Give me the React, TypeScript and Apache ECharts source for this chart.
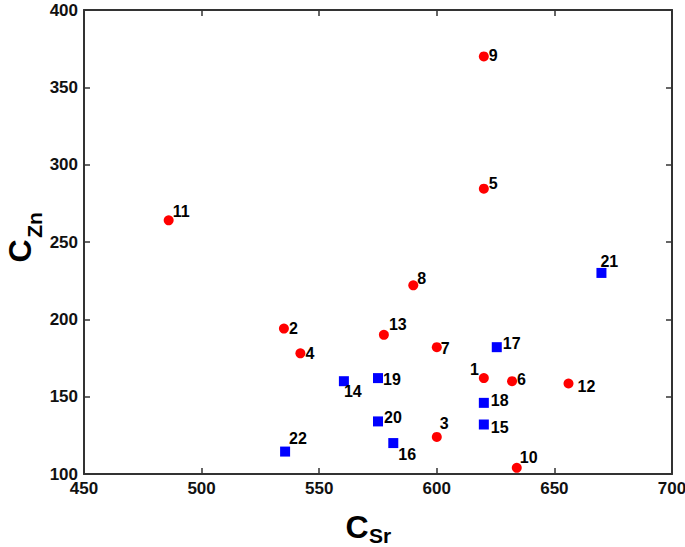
import React, { useEffect, useRef } from "react";
import * as echarts from "echarts";

const redNames = ["1", "2", "3", "4", "5", "6", "7", "8", "9", "10", "11", "12", "13"];
const redSr = [620, 535, 600, 542, 620, 632, 600, 590, 620, 634, 486, 656, 577.5];
const redZn = [162, 194, 124, 178, 284.5, 160, 182, 222, 370, 104, 264, 158.5, 190];

const blueNames = ["14", "15", "16", "17", "18", "19", "20", "21", "22"];
const blueSr = [560.5, 620, 581.5, 625.5, 620, 575, 575, 670, 535.5];
const blueZn = [160, 132, 120, 182, 146, 162, 134, 230, 114.5];

const xTicks = [450, 500, 550, 600, 650, 700];
const yTicks = [100, 150, 200, 250, 300, 350, 400];

const xTitle = ["C", "Sr"];
const yTitle = ["C", "Zn"];

// label placement offsets [dx, dy] per point name
const labelOffsets: Record<string, [number, number]> = {
  "1": [0, -9],
  "2": [0, 0],
  "3": [-2, -13],
  "4": [0, 0],
  "5": [0, -5],
  "6": [0, -2],
  "7": [-1, 1],
  "8": [-1, -7],
  "9": [0, -1],
  "10": [-2, -10],
  "11": [-1, -9],
  "12": [4, 3],
  "13": [0, -10],
  "14": [-5, 10],
  "15": [2, 3],
  "16": [0, 11],
  "17": [1, -4],
  "18": [2, -2],
  "19": [0, 1],
  "20": [1, -4],
  "21": [-6, -11],
  "22": [-1, -13],
};
const leftLabels = ["1"];

const FONT = "'Liberation Sans', Arial, sans-serif";

function buildData(names: string[], xs: number[], ys: number[]) {
  return names.map((n, i) => ({
    name: n,
    value: [xs[i], ys[i]],
    label: {
      offset: labelOffsets[n] || [0, 0],
      position: leftLabels.includes(n) ? "left" : "right",
    },
  }));
}

export default function App() {
  const ref = useRef<HTMLDivElement>(null);
  useEffect(() => {
    document.body.style.margin = "0";
    document.body.style.overflow = "hidden";
    if (!ref.current) return;
    const chart = echarts.init(ref.current, undefined, { renderer: "svg" });
    const labelStyle = {
      show: true,
      position: "right" as const,
      distance: 0,
      formatter: "{b}",
      color: "#000",
      fontSize: 16,
      fontFamily: FONT,
      fontWeight: "bold" as const,
    };
    const axisLineStyle = { lineStyle: { color: "#333", width: 2 } };
    const tick = { show: true, inside: true, length: 6, lineStyle: { color: "#333", width: 1.5 } };
    const titleText = (text: string, x: number, y: number, size: number, rot = 0) => ({
      type: "text",
      x,
      y,
      rotation: rot,
      style: {
        text,
        fontSize: size,
        lineHeight: Math.round(size * 0.8),
        fontWeight: "bold",
        fontFamily: FONT,
        fill: "#000",
        align: "center",
        verticalAlign: "middle",
      },
    });
    chart.setOption({
      animation: false,
      backgroundColor: "#fff",
      grid: { left: 84, right: 13, top: 10, bottom: 73, containLabel: false, outerBoundsMode: "none" },
      graphic: [
        titleText(xTitle[0], 357, 527, 32),
        titleText(xTitle[1], 380, 535, 21),
        titleText(yTitle[0], 20, 251, 32, Math.PI / 2),
        titleText(yTitle[1], 34, 225, 21, Math.PI / 2),
      ],
      xAxis: [
        {
          type: "value",
          min: 450,
          max: 700,
          interval: 50,
          axisLine: { show: true, ...axisLineStyle },
          axisTick: tick,
          splitLine: { show: false },
          axisLabel: {
            color: "#111",
            fontSize: 17,
            fontWeight: "bold",
            fontFamily: FONT,
            margin: 6,
            formatter: (v: number) => (xTicks.includes(v) ? String(v) : ""),
          },
        },
        {
          type: "value",
          position: "top",
          min: 450,
          max: 700,
          interval: 50,
          axisLine: { show: true, ...axisLineStyle },
          axisTick: tick,
          axisLabel: { show: false },
          splitLine: { show: false },
        },
      ],
      yAxis: [
        {
          type: "value",
          min: 100,
          max: 400,
          interval: 50,
          axisLine: { show: true, ...axisLineStyle },
          axisTick: tick,
          splitLine: { show: false },
          axisLabel: {
            color: "#111",
            fontSize: 17,
            fontWeight: "bold",
            fontFamily: FONT,
            margin: 6,
            formatter: (v: number) => (yTicks.includes(v) ? String(v) : ""),
          },
        },
        {
          type: "value",
          position: "right",
          min: 100,
          max: 400,
          interval: 50,
          axisLine: { show: true, ...axisLineStyle },
          axisTick: tick,
          axisLabel: { show: false },
          splitLine: { show: false },
        },
      ],
      series: [
        {
          type: "scatter",
          name: "red",
          symbol: "circle",
          symbolSize: 10,
          itemStyle: { color: "#ff0000", opacity: 1 },
          label: labelStyle,
          data: buildData(redNames, redSr, redZn),
        },
        {
          type: "scatter",
          name: "blue",
          symbol: "rect",
          symbolSize: 10,
          itemStyle: { color: "#0000ff", opacity: 1 },
          label: labelStyle,
          data: buildData(blueNames, blueSr, blueZn),
        },
      ],
    });
    return () => chart.dispose();
  }, []);
  return <div ref={ref} style={{ width: 685, height: 547 }} />;
}
